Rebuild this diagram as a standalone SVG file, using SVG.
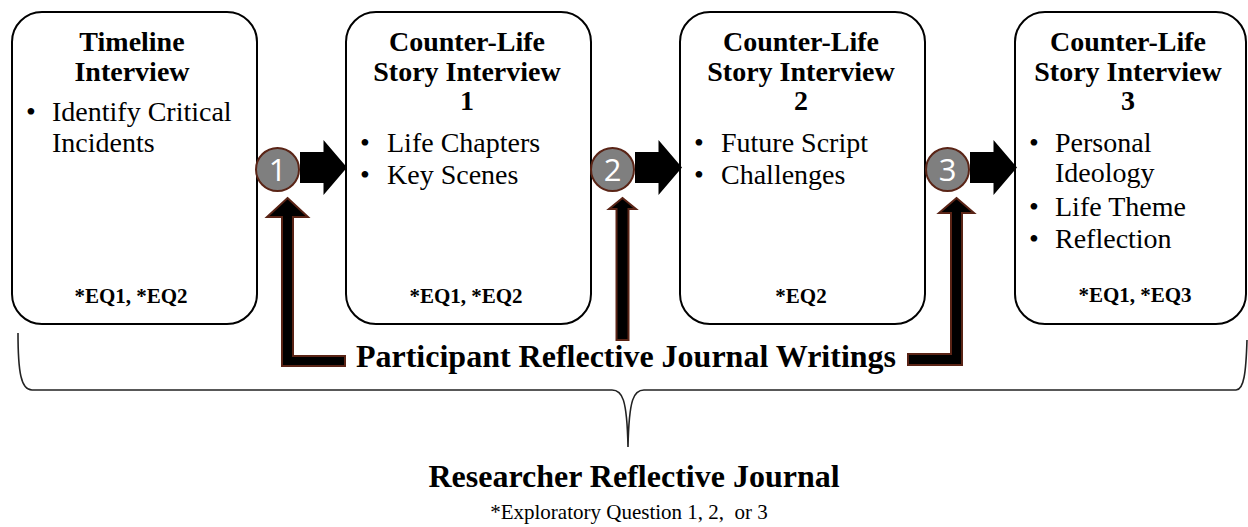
<svg xmlns="http://www.w3.org/2000/svg" width="1248" height="527" viewBox="0 0 1248 527">
  <style>
    .box { fill: #ffffff; stroke: #000000; stroke-width: 2; }
    .title { font-family: "Liberation Serif", "Times New Roman", serif; font-weight: bold; font-size: 28px; fill: #000; text-anchor: middle; }
    .item { font-family: "Liberation Serif", "Times New Roman", serif; font-size: 28px; fill: #000; }
    .dot { font-family: "Liberation Serif", "Times New Roman", serif; font-size: 28px; fill: #000; text-anchor: middle; }
    .eq { font-family: "Liberation Serif", "Times New Roman", serif; font-weight: bold; font-size: 21px; fill: #000; text-anchor: middle; }
    .step { fill: #7f7f7f; stroke: #5a2416; stroke-width: 2; }
    .num { font-family: "Open Sans", "DejaVu Sans", sans-serif; font-size: 31px; fill: #ffffff; text-anchor: middle; }
    .flow { fill: #000000; }
    .feed { fill: #000000; stroke: #5a2416; stroke-width: 2; stroke-linejoin: miter; }
    .brace { fill: none; stroke: #222222; stroke-width: 1.6; }
    .big { font-family: "Liberation Serif", "Times New Roman", serif; font-weight: bold; font-size: 32px; fill: #000; text-anchor: middle; }
    .note { font-family: "Liberation Serif", "Times New Roman", serif; font-size: 21px; fill: #000; text-anchor: middle; white-space: pre; }
  </style>

  <!-- interview stages -->
  <g id="timeline-interview">
    <rect class="box" x="12" y="12" width="245" height="312" rx="30" ry="30"/>
    <text class="title" x="132" y="51">Timeline</text>
    <text class="title" x="132" y="81">Interview</text>
    <text class="dot" x="31" y="121">•</text>
    <text class="item" x="52" y="121">Identify Critical</text>
    <text class="item" x="52" y="152">Incidents</text>
    <text class="eq" x="131" y="303">*EQ1, *EQ2</text>
  </g>

  <g id="story-interview-1">
    <rect class="box" x="346" y="12" width="245" height="312" rx="30" ry="30"/>
    <text class="title" x="467" y="51">Counter-Life</text>
    <text class="title" x="467" y="81">Story Interview</text>
    <text class="title" x="467" y="110">1</text>
    <text class="dot" x="365" y="152">•</text>
    <text class="item" x="387" y="152">Life Chapters</text>
    <text class="dot" x="365" y="184">•</text>
    <text class="item" x="387" y="184">Key Scenes</text>
    <text class="eq" x="466" y="303">*EQ1, *EQ2</text>
  </g>

  <g id="story-interview-2">
    <rect class="box" x="680" y="12" width="245" height="312" rx="30" ry="30"/>
    <text class="title" x="801" y="51">Counter-Life</text>
    <text class="title" x="801" y="81">Story Interview</text>
    <text class="title" x="801" y="110">2</text>
    <text class="dot" x="699" y="152">•</text>
    <text class="item" x="721" y="152">Future Script</text>
    <text class="dot" x="699" y="184">•</text>
    <text class="item" x="721" y="184">Challenges</text>
    <text class="eq" x="801" y="303">*EQ2</text>
  </g>

  <g id="story-interview-3">
    <rect class="box" x="1015" y="12" width="231" height="312" rx="30" ry="30"/>
    <text class="title" x="1128" y="51">Counter-Life</text>
    <text class="title" x="1128" y="81">Story Interview</text>
    <text class="title" x="1128" y="110">3</text>
    <text class="dot" x="1034" y="152">•</text>
    <text class="item" x="1055" y="152">Personal</text>
    <text class="item" x="1055" y="182">Ideology</text>
    <text class="dot" x="1034" y="216">•</text>
    <text class="item" x="1055" y="216">Life Theme</text>
    <text class="dot" x="1034" y="248">•</text>
    <text class="item" x="1055" y="248">Reflection</text>
    <text class="eq" x="1135" y="302">*EQ1, *EQ3</text>
  </g>

  <!-- numbered step markers -->
  <g id="step-1">
    <circle class="step" cx="277.5" cy="169.5" r="21.5"/>
    <text class="num" x="277.5" y="181">1</text>
  </g>
  <g id="step-2">
    <circle class="step" cx="612.5" cy="169.5" r="21.5"/>
    <text class="num" x="612.5" y="181">2</text>
  </g>
  <g id="step-3">
    <circle class="step" cx="947.5" cy="169.5" r="21.5"/>
    <text class="num" x="947.5" y="181">3</text>
  </g>

  <!-- journal labels -->
  <g id="participant-journal">
    <text class="big" x="626" y="367">Participant Reflective Journal Writings</text>
  </g>
  <g id="researcher-journal">
    <text class="big" x="634" y="487">Researcher Reflective Journal</text>
    <text class="note" x="629" y="519">*Exploratory Question 1, 2,  or 3</text>
  </g>

  <!-- connectors -->
  <g id="connectors">
    <!-- stage-to-stage block arrows -->
    <path class="flow" d="M300,152 H323.5 V140 L347,167.5 L323.5,195 V183 H300 Z"/>
    <path class="flow" d="M635,152 H658.5 V140 L682,167.5 L658.5,195 V183 H635 Z"/>
    <path class="flow" d="M970,152 H993.5 V140 L1017,167.5 L993.5,195 V183 H970 Z"/>
    <!-- journal feedback arrows -->
    <path class="feed" d="M287.5,198 L308,217 L293,217 L293,356 L345,356 L345,366 L282,366 L282,217 L267,217 Z"/>
    <path class="feed" d="M622.5,198 L636,209 L628.5,209 L628.5,340 L616.5,340 L616.5,209 L609,209 Z"/>
    <path class="feed" d="M956.5,198 L974,213 L962,213 L962,365 L908,365 L908,354 L951,354 L951,213 L939,213 Z"/>
    <!-- brace spanning all stages -->
    <path class="brace" d="M18,333 C18,372 21,390 32,390 L612,390 C622,390 627,398 628,447 C629,398 634,390 644,390 L1236,390 C1244,390 1246,372 1247,340"/>
  </g>
</svg>
